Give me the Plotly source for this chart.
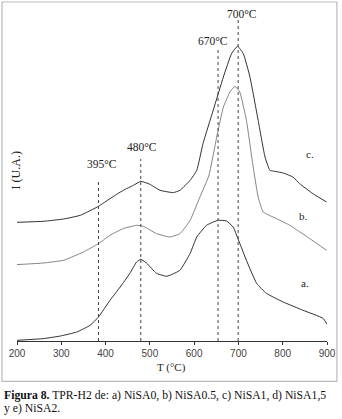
import plotly.graph_objects as go

# Curve a
temp_a = [200, 260, 298, 335, 365, 384, 410, 433, 455, 470, 479.5, 493, 515, 538, 552, 568,
          591, 606, 628, 654, 673, 688, 703, 718, 741, 763, 801, 846, 891, 900]
int_a = [0.7, 2.4, 5, 9, 15.7, 24, 40.7, 54, 67.7, 79, 81.7, 77.7, 67.7, 64.7, 67, 70.7,
         87.7, 104, 115.7, 120.7, 120, 114, 97.7, 80.7, 57.7, 47.7, 39, 30.7, 22.7, 16.7]

# Curve b
temp_b = [200, 260, 305, 350, 384, 410, 440, 470, 485, 515, 545, 568, 591, 613, 633,
          651, 666, 681, 692, 703, 718, 733, 744.5, 756, 786, 816, 861, 899]
int_b = [76.4, 78, 80.7, 89, 97.4, 105.7, 112.4, 115.7, 114.7, 107.4, 104, 107.4, 120.7, 144, 165,
         204, 234, 249, 254.7, 249, 220.7, 175, 144, 129, 122.4, 115.7, 102.4, 90.7]

# Curve c
temp_c = [200, 260, 305, 343, 384, 410, 440, 463, 479.5, 500, 523, 553, 568, 591, 606,
          620, 643, 666, 684.5, 698, 711, 726, 744.5, 760, 771, 778, 801, 823, 838, 868, 899]
int_c = [118.7, 119.7, 122, 125.7, 134.7, 142.4, 150.7, 155.7, 159.7, 156.7, 150.7, 148.4, 150.7, 160.7, 170.7,
         197.4, 230.7, 264, 287.4, 294.7, 287.4, 264, 220.7, 184, 170.7, 170, 168, 164, 157.4, 147.4, 139]

# Dashed marker lines (position, top) and their labels
mark_x = [384, 479.5, 654, 699.4]
mark_top = [162, 182, 294, 321]
mark_labels = ["395°C", "480°C", "670°C", "700°C"]
label_x = [392, 482, 642, 708]
label_y = [177, 194, 300, 327]

curve_names = ["a.", "b.", "c."]
curve_label_x = [850, 846, 861]
curve_label_y = [58, 125, 187]

x_ticks = [200, 300, 400, 500, 600, 700, 800, 900]

FONT = "Liberation Serif"
TXT = "#222222"

fig = go.Figure()
fig.add_trace(go.Scatter(x=temp_a, y=int_a, mode="lines", line=dict(color="#1a1a1a", width=0.9, shape="spline", smoothing=0.4)))
fig.add_trace(go.Scatter(x=temp_b, y=int_b, mode="lines", line=dict(color="#666666", width=0.8, shape="spline", smoothing=0.4)))
fig.add_trace(go.Scatter(x=temp_c, y=int_c, mode="lines", line=dict(color="#1a1a1a", width=0.9, shape="spline", smoothing=0.4)))

shapes = []
for mx, mt in zip(mark_x, mark_top):
    shapes.append(dict(type="line", xref="x", yref="y", x0=mx, x1=mx, y0=0, y1=mt,
                       line=dict(color="#444444", width=1, dash="dot")))
shapes.append(dict(type="rect", xref="paper", yref="paper", x0=-0.0484, x1=1.032, y0=-0.119, y1=1.0,
                   line=dict(color="#bbbbbb", width=1.2), fillcolor="rgba(0,0,0,0)", layer="below"))

annotations = []
for lx, ly, lt in zip(label_x, label_y, mark_labels):
    annotations.append(dict(x=lx, y=ly, xref="x", yref="y", text=lt, showarrow=False,
                             xanchor="center", yanchor="middle",
                             font=dict(family=FONT, size=11.5, color=TXT)))
for cx, cy, ct in zip(curve_label_x, curve_label_y, curve_names):
    annotations.append(dict(x=cx, y=cy, xref="x", yref="y", text=ct, showarrow=False,
                             xanchor="center", yanchor="middle",
                             font=dict(family=FONT, size=11, color=TXT)))
annotations.append(dict(x=-0.003, y=0.5035, xref="paper", yref="paper", text="I (U.A.)", textangle=-90,
                        xanchor="center", yanchor="middle",
                        showarrow=False, font=dict(family=FONT, size=12, color=TXT)))
annotations.append(dict(x=0.497, y=-0.077, xref="paper", yref="paper", text="T (°C)",
                        xanchor="center", yanchor="middle",
                        showarrow=False, font=dict(family=FONT, size=11, color=TXT)))
annotations.append(dict(x=-0.0484, y=-0.160, xref="paper", yref="paper", xanchor="left", yanchor="middle",
                        text="<b>Figura 8.</b> TPR-H2 de: a) NiSA0, b) NiSA0.5, c) NiSA1, d) NiSA1,5",
                        showarrow=False, font=dict(family=FONT, size=11.7, color="#111111")))
annotations.append(dict(x=-0.0484, y=-0.1985, xref="paper", yref="paper", xanchor="left", yanchor="middle",
                        text="y e) NiSA2.",
                        showarrow=False, font=dict(family=FONT, size=11.7, color="#111111")))

fig.update_layout(
    width=342, height=419,
    margin=dict(l=17, r=15, t=2, b=78, autoexpand=False),
    paper_bgcolor="white", plot_bgcolor="white",
    showlegend=False,
    shapes=shapes, annotations=annotations,
    xaxis=dict(range=[200, 900], tickvals=x_ticks, ticks="outside", ticklen=3, tickcolor="#333333",
               showline=True, linecolor="#333333", linewidth=1, showgrid=False, zeroline=False,
               tickfont=dict(family="Liberation Sans", size=10, color="#444444")),
    yaxis=dict(range=[0, 339], visible=False, showgrid=False, zeroline=False),
)

fig.write_html("out.html", config={"displayModeBar": False},
               post_script="document.body.style.margin='0';document.body.style.overflow='hidden';")
